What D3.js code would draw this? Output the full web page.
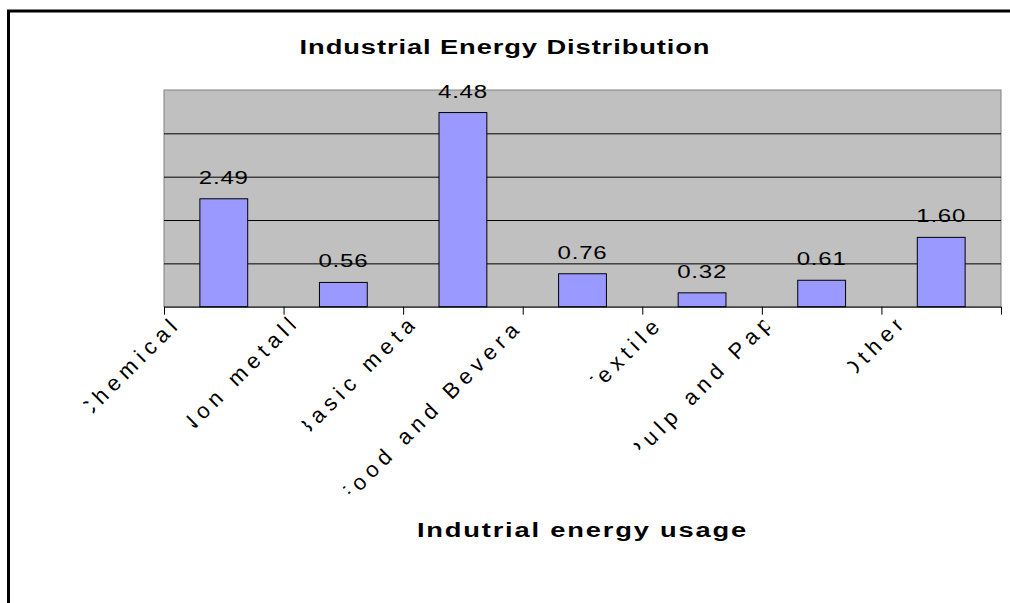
<!DOCTYPE html>
<html>
<head>
<meta charset="utf-8">
<script src="https://cdn.jsdelivr.net/npm/d3@7"></script>
<style>
  body { margin: 0; background: #fff; }
  svg { display: block; }
  text { font-family: "Liberation Sans", Arial, sans-serif; fill: #000; }
</style>
</head>
<body>
<svg id="chart" width="1010" height="603"></svg>
<script>
// Chart data
const categories = ["Chemicals", "Non metallic", "Basic metals", "Food and Beverages", "Textiles", "Pulp and Paper", "Other"];
const values = [2.49, 0.56, 4.48, 0.76, 0.32, 0.61, 1.60];
const gridValues = [1, 2, 3, 4];
const chartTitle = "Industrial Energy Distribution";
const axisTitle = "Indutrial energy usage";

const svg = d3.select("#chart");
const defs = svg.append("defs");

const plot = { left: 164, top: 90, right: 1001, bottom: 306.7 };
const x = d3.scaleBand().domain(categories).range([plot.left, plot.right]);
const xEdges = d3.scaleLinear().domain([0, categories.length]).range([plot.left, plot.right]);
const y = d3.scaleLinear().domain([0, 5]).range([plot.bottom, plot.top]);

// outer frame (right and bottom edges run off the canvas)
svg.append("rect")
  .attr("x", 8.5).attr("y", 11)
  .attr("width", 1100).attr("height", 700)
  .attr("fill", "none").attr("stroke", "#000").attr("stroke-width", 3);

// chart title
svg.append("text")
  .attr("transform", "translate(505,54) scale(1.3,1)")
  .attr("text-anchor", "middle")
  .style("font-size", "21px").style("font-weight", "bold")
  .style("letter-spacing", "0.7px")
  .text(chartTitle);

// plot area
svg.append("rect")
  .attr("x", plot.left).attr("y", plot.top)
  .attr("width", plot.right - plot.left).attr("height", plot.bottom - plot.top)
  .attr("fill", "#C0C0C0").attr("stroke", "#808080").attr("stroke-width", 1);

// horizontal gridlines
const grid = svg.append("g")
  .attr("transform", `translate(${plot.left},0)`)
  .call(d3.axisLeft(y).tickValues(gridValues).tickSize(-(plot.right - plot.left)).tickFormat(""));
grid.select(".domain").remove();
grid.selectAll(".tick line").attr("stroke", "#000").attr("stroke-width", 1);

// bars
const barW = x.bandwidth() * 0.4;
svg.append("g").selectAll("rect")
  .data(values)
  .join("rect")
  .attr("x", (d, i) => x(categories[i]) + (x.bandwidth() - barW) / 2)
  .attr("y", d => y(d))
  .attr("width", barW)
  .attr("height", d => y(0) - y(d))
  .attr("fill", "#9999FF")
  .attr("stroke", "#000").attr("stroke-width", 1);

// value labels
svg.append("g").selectAll("text")
  .data(values)
  .join("text")
  .attr("transform", (d, i) => `translate(${x(categories[i]) + x.bandwidth() / 2},${y(d) - 15}) scale(1.3,1)`)
  .attr("text-anchor", "middle")
  .style("font-size", "18.5px")
  .style("letter-spacing", "0.6px")
  .text(d => d.toFixed(2));

// category axis with ticks at the band edges
const xAxis = svg.append("g")
  .attr("transform", `translate(0,${plot.bottom})`)
  .call(d3.axisBottom(xEdges).tickValues(d3.range(categories.length + 1)).tickSize(8).tickFormat(""));
xAxis.select(".domain").attr("stroke", "#000").attr("d", `M${plot.left},0.5H${plot.right}`);
xAxis.selectAll(".tick line").attr("stroke", "#000");

// rotated category labels, each clipped to its own label box
const labelLayer = svg.append("g");
categories.forEach((c, i) => {
  const probe = labelLayer.append("text").style("font-size", "19px").text(c);
  const w0 = probe.node().getComputedTextLength();
  probe.remove();
  const boxLen = w0 * 1.37;
  const endX = x(c) + x.bandwidth() / 2 - 36 - 0.115 * boxLen;
  const endY = 322;
  const h = boxLen / 2 * Math.SQRT1_2;
  const id = "catclip" + i;
  defs.append("clipPath").attr("id", id)
    .append("rect")
    .attr("x", -boxLen / 2).attr("y", -20)
    .attr("width", boxLen).attr("height", 40);
  const g = labelLayer.append("g")
    .attr("transform", `translate(${endX - h},${endY + h}) rotate(-45)`)
    .attr("clip-path", `url(#${id})`);
  g.append("text")
    .attr("x", -boxLen / 2 - 10)
    .attr("dy", "0.36em")
    .style("font-size", "22px")
    .style("letter-spacing", "5.5px")
    .text(c);
});

// axis title
svg.append("text")
  .attr("transform", `translate(${(plot.left + plot.right) / 2},537) scale(1.3,1)`)
  .attr("text-anchor", "middle")
  .style("font-size", "21px").style("font-weight", "bold")
  .style("letter-spacing", "1.4px")
  .text(axisTitle);
</script>
</body>
</html>
